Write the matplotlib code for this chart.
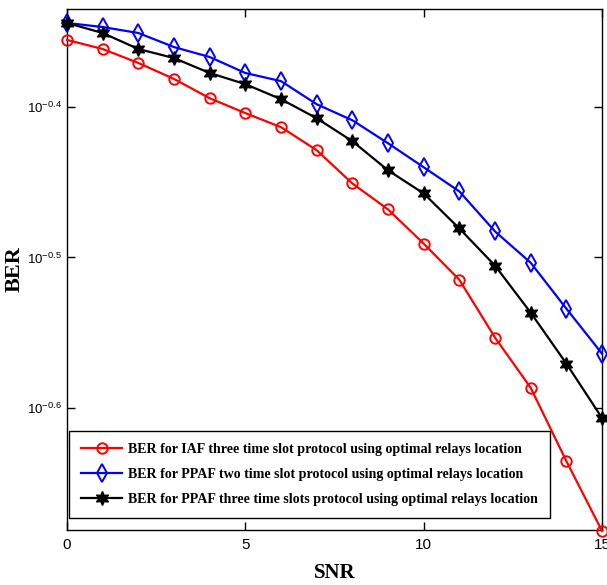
import numpy as np
import matplotlib.pyplot as plt
from matplotlib.ticker import FixedLocator, FixedFormatter, NullLocator

snr = np.arange(0, 16)

ber_iaf = [0.4413, 0.4352, 0.4260, 0.4157, 0.4036, 0.3945, 0.3861, 0.3727,
           0.3542, 0.3404, 0.3230, 0.3056, 0.2797, 0.2590, 0.2315, 0.2080]
ber_ppaf2 = [0.4529, 0.4501, 0.4460, 0.4365, 0.4299, 0.4195, 0.4143, 0.3999,
             0.3902, 0.3767, 0.3631, 0.3499, 0.3291, 0.3137, 0.2924, 0.2729]
ber_ppaf3 = [0.4529, 0.4460, 0.4352, 0.4292, 0.4195, 0.4124, 0.4030, 0.3914,
             0.3779, 0.3614, 0.3488, 0.3306, 0.3123, 0.2906, 0.2688, 0.2473]

labels = ["BER for IAF three time slot protocol using optimal relays location",
          "BER for PPAF two time slot protocol using optimal relays location",
          "BER for PPAF three time slots protocol using optimal relays location"]

y_exps = [-0.6, -0.5, -0.4]

plt.rcParams['mathtext.fontset'] = 'custom'
plt.rcParams['mathtext.rm'] = 'Liberation Sans'
plt.rcParams['axes.unicode_minus'] = False

fig = plt.figure(figsize=(6.07, 5.85), dpi=100)
ax = fig.add_axes([0.1104, 0.094, 0.8814, 0.8906])

ax.plot(snr, ber_iaf, color='red', lw=1.6, marker='o', ms=7.5, mfc='none',
        mew=1.4, label=labels[0], clip_on=False, zorder=3)
ax.plot(snr, ber_ppaf2, color='blue', lw=1.6, marker='d', ms=9, mfc='none',
        mew=1.4, label=labels[1], clip_on=False, zorder=3)
ax.plot(snr, ber_ppaf3, color='black', lw=1.6, marker=(6, 1, 0), ms=10,
        mfc='black', mew=1.0, label=labels[2], clip_on=False, zorder=3)

ax.set_yscale('log')
ax.set_xlim(0, 15)
ax.set_ylim(10 ** -0.6813, 10 ** -0.3347)

ax.xaxis.set_major_locator(FixedLocator([0, 5, 10, 15]))
ax.yaxis.set_major_locator(FixedLocator([10 ** e for e in y_exps]))
ax.yaxis.set_major_formatter(FixedFormatter(
    [r'$\mathregular{10^{%s}}$' % e for e in y_exps]))
ax.yaxis.set_minor_locator(NullLocator())

ax.tick_params(direction='in', length=6, width=1, top=True, right=True)
ax.tick_params(axis='x', pad=6, labelsize=11)
ax.tick_params(axis='y', pad=4, labelsize=9.5)
for lbl in ax.get_xticklabels() + ax.get_yticklabels():
    lbl.set_fontfamily('Liberation Sans')

for s in ax.spines.values():
    s.set_linewidth(1.0)

serif = 'Liberation Serif'
ax.set_xlabel('SNR', fontsize=15, fontweight='bold', family=serif, labelpad=8)
ax.set_ylabel('BER', fontsize=16, fontweight='bold', family=serif)
ax.yaxis.set_label_coords(-0.08, 0.5)

leg = ax.legend(loc='lower left', bbox_to_anchor=(0.0037, 0.023),
                prop={'family': serif, 'weight': 'bold', 'size': 10.1},
                fancybox=False, edgecolor='black', framealpha=1,
                handlelength=2.95, handletextpad=0.4, borderpad=0.85,
                labelspacing=0.85, borderaxespad=0)
leg.get_frame().set_linewidth(1.0)

fig.savefig('out.png', dpi=100)
